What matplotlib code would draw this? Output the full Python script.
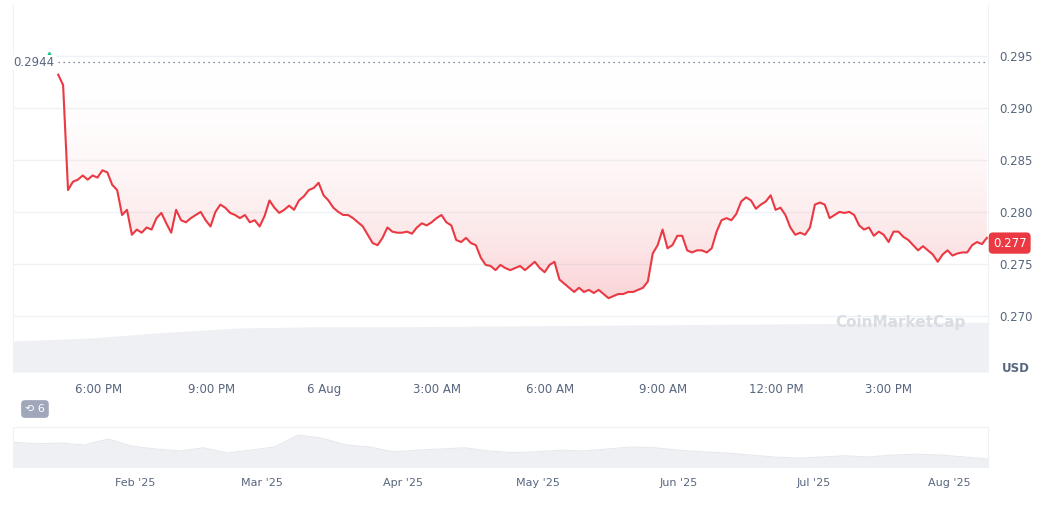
import matplotlib
matplotlib.use("Agg")
import matplotlib.pyplot as plt
import numpy as np
from matplotlib.colors import LinearSegmentedColormap

# price readings, evenly spaced from ~16:56 (5 Aug) to ~17:36 (6 Aug)
price = [0.2932, 0.2922, 0.2821, 0.2829, 0.2831, 0.2835, 0.2831, 0.2835, 0.2833, 0.2840,
         0.2838, 0.2826, 0.2821, 0.2797, 0.2802, 0.2778, 0.2783, 0.2780, 0.2785, 0.2783,
         0.2794, 0.2799, 0.2789, 0.2780, 0.2802, 0.2792, 0.2790, 0.2794, 0.2797, 0.2800,
         0.2792, 0.2786, 0.2800, 0.2807, 0.2804, 0.2799, 0.2797, 0.2794, 0.2797, 0.2790,
         0.2792, 0.2786, 0.2796, 0.2811, 0.2804, 0.2799, 0.2802, 0.2806, 0.2802, 0.2811,
         0.2815, 0.2821, 0.2823, 0.2828, 0.2816, 0.2811, 0.2804, 0.2800, 0.2797, 0.2797,
         0.2794, 0.2790, 0.2786, 0.2778, 0.2770, 0.2768, 0.2775, 0.2785, 0.2781, 0.2780,
         0.2780, 0.2781, 0.2779, 0.2785, 0.2789, 0.2787, 0.2790, 0.2794, 0.2797, 0.2790,
         0.2787, 0.2773, 0.2771, 0.2775, 0.2770, 0.2768, 0.2756, 0.2749, 0.2748, 0.2744,
         0.2749, 0.2746, 0.2744, 0.2746, 0.2748, 0.2744, 0.2748, 0.2752, 0.2746, 0.2742,
         0.2749, 0.2752, 0.2735, 0.2731, 0.2727, 0.2723, 0.2727, 0.2723, 0.2725, 0.2722,
         0.2725, 0.2721, 0.2717, 0.2719, 0.2721, 0.2721, 0.2723, 0.2723, 0.2725, 0.2727,
         0.2733, 0.2760, 0.2768, 0.2783, 0.2765, 0.2768, 0.2777, 0.2777, 0.2763, 0.2761,
         0.2763, 0.2763, 0.2761, 0.2765, 0.2781, 0.2792, 0.2794, 0.2792, 0.2798, 0.2810,
         0.2814, 0.2811, 0.2803, 0.2807, 0.2810, 0.2816, 0.2802, 0.2804, 0.2797, 0.2785,
         0.2778, 0.2780, 0.2778, 0.2785, 0.2807, 0.2809, 0.2807, 0.2794, 0.2797, 0.2800,
         0.2799, 0.2800, 0.2797, 0.2787, 0.2783, 0.2785, 0.2777, 0.2781, 0.2778, 0.2771,
         0.2781, 0.2781, 0.2776, 0.2773, 0.2768, 0.2763, 0.2767, 0.2763, 0.2759, 0.2752,
         0.2759, 0.2763, 0.2758, 0.2760, 0.2761, 0.2761, 0.2768, 0.2771, 0.2769, 0.2775]
open_price = 0.2944
last_price = 0.277
t_start, t_end = -1.06, 23.6   # hours relative to 6:00 PM

volume = [0.55, 0.6, 0.7, 0.78, 0.8, 0.8, 0.81, 0.82, 0.83, 0.84, 0.85, 0.86, 0.88, 0.88]

time_ticks = [0, 3, 6, 9, 12, 15, 18, 21]
time_labels = ["6:00 PM", "9:00 PM", "6 Aug", "3:00 AM", "6:00 AM", "9:00 AM", "12:00 PM", "3:00 PM"]
price_ticks = [0.270, 0.275, 0.280, 0.285, 0.290, 0.295]

hist = [0.62, 0.58, 0.6, 0.55, 0.7, 0.52, 0.45, 0.4, 0.48, 0.35, 0.42, 0.5, 0.8, 0.72, 0.55,
        0.5, 0.38, 0.42, 0.45, 0.48, 0.4, 0.36, 0.38, 0.42, 0.4, 0.45, 0.5, 0.48, 0.42, 0.38,
        0.35, 0.3, 0.25, 0.22, 0.25, 0.28, 0.25, 0.3, 0.32, 0.3, 0.25, 0.2]
month_labels = ["Feb '25", "Mar '25", "Apr '25", "May '25", "Jun '25", "Jul '25", "Aug '25"]
month_pos = [0.125, 0.255, 0.4, 0.538, 0.683, 0.821, 0.96]

red = "#ea3943"

fig = plt.figure(figsize=(10.55, 5.09), dpi=100)
W, H = 1055, 509
x0, x1 = 13, 988
ax = fig.add_axes([x0 / W, 1 - 372 / H, (x1 - x0) / W, 367 / H])

t = np.linspace(t_start, t_end, len(price))
xl = (-2.26, 23.63)
ylo, yhi = 0.2646, 0.2999

# volume underlay
axv = ax.twinx()
tv = np.linspace(xl[0], xl[1], len(volume))
axv.fill_between(tv, volume, 0, color="#eef0f3", lw=0)
axv.set_ylim(0, 6.5)
axv.set_xlim(xl)
axv.axis("off")
ax.set_zorder(axv.get_zorder() + 1)
ax.patch.set_visible(False)

for p in price_ticks:
    ax.axhline(p, color="#eff2f5", lw=1, zorder=0)

# gradient fill between line and open price
poly = ax.fill_between(t, price, open_price, color="none", lw=0)
cmap = LinearSegmentedColormap.from_list("g", [(1, 1, 1, 0), (0.92, 0.22, 0.26, 0.22)])
grad = np.linspace(0, 1, 256).reshape(-1, 1)
im = ax.imshow(grad, cmap=cmap, extent=[t_start, t_end, 0.2715, open_price],
               origin="upper", aspect="auto", zorder=1)
im.set_clip_path(poly.get_paths()[0], transform=ax.transData)

ax.plot(t, price, color=red, lw=1.5, zorder=3)
ax.plot([t_start, xl[1]], [open_price, open_price], color="#58667e", lw=0.9, ls=(0, (1, 3)), zorder=2)
ax.text(t_start - 0.1, open_price, "0.2944", ha="right", va="center", fontsize=8.5,
        color="#58667e", zorder=4,
        bbox=dict(boxstyle="square,pad=0.1", fc="white", ec="none"))
ax.plot([t_start - 0.25], [open_price + 0.0008], marker="^", ms=3, color="#16c784")

ax.set_xlim(xl)
ax.set_ylim(ylo, yhi)
ax.set_xticks(time_ticks)
ax.set_xticklabels(time_labels, fontsize=8.5, color="#58667e")
ax.yaxis.tick_right()
ax.set_yticks(price_ticks)
ax.set_yticklabels(["%.3f" % p for p in price_ticks], fontsize=8.5, color="#58667e")
ax.tick_params(length=0, pad=8)
for s in ["top", "bottom"]:
    ax.spines[s].set_visible(False)
ax.spines["left"].set_color("#eff2f5")
ax.spines["right"].set_color("#eff2f5")

ax.text(1.005, (last_price - ylo) / (yhi - ylo), "0.277", transform=ax.transAxes,
        ha="left", va="center", fontsize=8.5, color="white",
        bbox=dict(boxstyle="round,pad=0.35", fc=red, ec="none"))
fig.text(1002 / W, 1 - 368 / H, "USD", fontsize=8.5, color="#58667e", fontweight="bold", va="center")
fig.text(835 / W, 1 - 322 / H, "CoinMarketCap", fontsize=11, color="#d9dde3", fontweight="bold", va="center")
fig.text(25 / W, 1 - 409 / H, "⟲ 6", fontsize=8, color="white", va="center",
         bbox=dict(boxstyle="round,pad=0.35", fc="#a1a7bb", ec="none"))

# navigator
axn = fig.add_axes([x0 / W, 1 - 467 / H, (x1 - x0) / W, 40 / H])
xn = np.linspace(0, 1, len(hist))
axn.fill_between(xn, hist, 0, color="#eef0f3", lw=0)
axn.plot(xn, hist, color="#e6e8ec", lw=0.8)
axn.set_xlim(0, 1)
axn.set_ylim(0, 1)
axn.set_yticks([])
axn.set_xticks(month_pos)
axn.set_xticklabels(month_labels, fontsize=8, color="#58667e")
axn.tick_params(length=0, pad=8)
for s in axn.spines.values():
    s.set_color("#eff2f5")

fig.savefig("out.png", dpi=100)
